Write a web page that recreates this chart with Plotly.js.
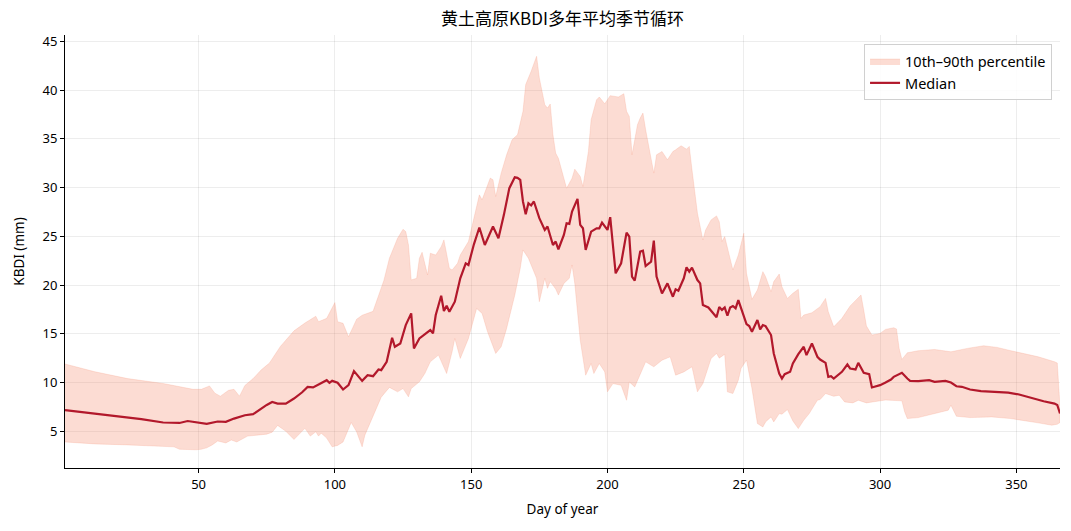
<!DOCTYPE html>
<html>
<head>
<meta charset="utf-8">
<script src="https://cdn.plot.ly/plotly-3.0.1.min.js"></script>
<style>html,body{margin:0;padding:0;background:#fff;}#chart{width:1071px;height:531px;}</style>
</head>
<body>
<div id="chart"></div>
<script>
const medianDays = [1,12,24,29,37,43,46,50,53,57,60,63,67,70,72,75,77,79,82,85,88,90,92,94,97,98,99,101,103,105,107,110,112,114,116,117,119,121,122,124,126,128,129,131,133,135,136,137,139,140,141,142,144,146,148,149,151,153,155,156,158,160,162,164,166,167,168,169,170,171,172,173,175,177,178,180,181,182,184,185,186,187,189,190,191,192,194,196,197,198,200,201,203,205,207,208,209,210,212,213,214,216,217,218,220,222,224,225,226,228,229,230,231,233,234,235,237,240,241,242,243,244,245,246,247,248,249,251,252,253,255,256,257,258,260,261,263,264,265,267,268,270,272,273,275,277,278,280,281,282,283,285,286,288,289,291,292,294,296,297,300,302,304,305,307,308,310,311,314,318,320,324,326,328,330,333,337,342,347,351,355,360,364,365,366];
const medianVals = [7.16,6.8,6.4,6.25,5.9,5.85,6.05,5.85,5.75,6.0,5.96,6.3,6.64,6.75,7.16,7.7,8.0,7.84,7.84,8.36,9.0,9.55,9.5,9.83,10.24,9.97,10.17,9.97,9.28,9.73,11.17,10.17,10.75,10.65,11.34,11.27,12.12,14.59,13.67,14.0,15.89,17.09,13.49,14.52,14.93,15.38,15.04,16.92,18.9,17.33,17.88,17.26,18.29,20.69,22.23,22.06,24.18,25.9,24.11,24.8,26.0,24.8,27.2,29.94,31.05,31.0,30.8,28.57,27.27,28.4,28.16,28.57,26.86,25.66,26.0,24.11,24.46,23.67,25.14,26.34,26.27,27.54,28.84,26.17,25.82,23.6,25.48,25.82,25.82,26.4,25.65,26.96,21.2,22.23,25.38,24.97,20.86,20.45,23.43,23.53,21.95,22.4,24.56,20.86,19.14,20.17,18.8,19.56,19.42,20.69,21.82,21.37,21.78,20.51,20.17,17.94,17.7,16.7,17.75,17.45,17.7,16.85,17.7,17.85,17.61,18.46,17.61,16.0,15.79,15.21,16.41,15.45,15.89,15.79,14.87,12.98,10.92,10.41,10.86,11.1,11.95,12.91,13.67,12.81,14.01,12.64,12.36,12.02,10.58,10.65,10.41,10.92,11.1,11.85,11.44,11.34,12.02,10.99,10.86,9.49,9.73,10.0,10.3,10.58,10.86,10.99,10.41,10.17,10.14,10.24,10.07,10.17,10.0,9.62,9.56,9.28,9.11,9.04,8.97,8.77,8.43,8.08,7.84,7.7,6.82];

const upperDays = [1,12,24,37,48,51,54,56,58,61,63,65,67,70,73,76,80,85,89,93,94,97,100,101,103,105,108,110,114,116,118,120,123,125,126,127,128,130,131,132,134,135,137,139,140,142,143,145,146,149,151,153,154,156,157,158,159,161,163,165,167,169,170,172,174,175,177,178,179,180,181,182,184,185,187,188,190,191,193,194,196,197,199,201,204,206,207,208,209,211,212,213,214,216,217,218,220,222,224,225,227,229,230,231,233,235,236,238,240,241,242,243,246,248,250,251,253,255,257,258,260,261,263,264,266,268,270,271,272,275,278,280,281,283,286,289,291,293,294,295,297,300,302,305,306,307,308,310,314,320,326,332,338,343,348,353,358,364,365,366];
const upperVals = [11.9,11.1,10.4,9.9,9.3,9.3,9.65,8.9,8.6,9.2,9.3,8.6,9.7,10.4,11.3,12.0,13.7,15.3,16.1,16.8,16.24,16.58,18.2,16.24,16.07,14.69,16.5,16.9,17.3,18.8,20.5,22.74,24.8,25.72,25.48,24.11,20.52,20.69,22.74,23.36,21.03,23.26,23.08,23.94,24.63,21.72,21.54,22.23,23.08,24.46,26.86,29.25,28.74,30.28,30.97,30.8,29.08,31.48,33.36,34.9,35.42,37.82,40.56,41.93,43.47,41.24,38.5,38.16,38.57,35.42,33.53,33.0,30.8,29.93,30.96,31.89,31.14,30.1,33.7,36.96,39.01,39.29,38.6,39.43,39.29,39.63,37.82,37.3,33.36,36.45,37.13,37.64,35.93,32.85,31.48,33.36,33.7,32.85,33.7,33.87,34.29,33.94,34.22,31.82,27.37,24.62,25.65,26.68,27.09,26.5,24.46,24.97,21.55,23.09,25.31,21.2,18.53,19.49,21.37,20.86,19.32,20.35,21.13,19.83,18.63,19.15,19.56,16.58,16.92,17.16,17.78,18.63,17.26,15.72,16.58,17.85,18.46,18.98,17.43,15.79,14.87,15.04,15.45,15.62,15.5,13.5,12.37,13.05,13.26,13.39,13.15,13.5,13.77,13.6,13.26,12.91,12.64,12.13,12.0,7.5];

const lowerDays = [1,12,24,41,43,49,51,53,55,57,60,62,64,68,72,75,77,79,82,85,89,91,93,94,95,97,99,101,103,106,108,110,111,114,117,120,123,125,127,128,131,133,135,138,141,143,144,146,147,149,152,154,156,159,161,163,166,168,169,171,172,174,175,177,178,179,181,182,184,186,187,188,190,192,194,195,197,199,200,202,205,207,208,210,213,214,217,220,223,225,228,231,233,235,238,240,241,243,244,246,248,249,251,253,255,257,258,260,261,263,264,266,268,270,272,274,277,278,280,283,285,287,290,292,295,297,300,302,305,308,309,310,314,320,325,326,328,333,341,348,353,358,363,365,366];
const lowerVals = [3.9,3.7,3.6,3.4,3.15,3.1,3.15,3.3,3.6,4.0,3.8,4.1,3.9,4.5,4.6,4.7,4.9,5.6,5.0,4.15,5.3,4.5,4.95,4.5,4.8,4.3,3.4,3.55,3.9,5.9,4.93,3.4,4.6,6.47,8.5,9.5,9.04,9.38,8.53,9.38,10.07,10.92,12.12,12.81,10.92,13.15,14.52,12.47,13.15,14.52,17.6,17.09,15.21,12.98,13.66,15.55,18.97,21.72,23.6,22.74,22.06,20.69,18.29,20.69,19.66,20.35,19.6,18.97,20.17,20.69,22.06,20.17,14.35,10.75,11.95,10.92,11.95,11.09,9.04,9.89,9.72,8.18,10.06,9.55,11.44,12.12,11.61,12.29,12.63,10.75,11.09,11.61,9.04,9.89,12.46,12.98,12.5,12.9,9.04,8.87,10.24,11.44,12.3,9.38,5.79,5.44,5.96,6.47,5.96,6.81,6.75,7.22,6.06,5.27,6.13,6.81,8.18,8.25,8.87,8.59,8.7,8.01,7.91,8.18,7.91,8.01,8.12,8.2,8.19,8.12,7.0,6.3,6.4,6.82,7.16,7.67,6.54,6.4,6.47,6.3,6.06,5.86,5.62,5.72,5.9];

const xTicks = [50,100,150,200,250,300,350];
const yTicks = [5,10,15,20,25,30,35,40,45];

const bandX = upperDays.concat(lowerDays.slice().reverse());
const bandY = upperVals.concat(lowerVals.slice().reverse());

const fontFam = '"Noto Sans", "Noto Sans CJK SC", sans-serif';

const traces = [
  {
    x: bandX, y: bandY, type: 'scatter', mode: 'lines',
    fill: 'toself', fillcolor: 'rgba(244,140,110,0.30)',
    line: {color: 'rgba(244,140,110,0.35)', width: 0.6},
    name: '10th–90th percentile', hoverinfo: 'skip'
  },
  {
    x: medianDays, y: medianVals, type: 'scatter', mode: 'lines',
    line: {color: '#B2182B', width: 2.2},
    name: 'Median'
  }
];

const axisCommon = {
  showline: true, linecolor: '#000', linewidth: 1,
  ticks: 'outside', ticklen: 4, tickwidth: 1, tickcolor: '#000',
  showgrid: true, gridcolor: 'rgba(0,0,0,0.07)', gridwidth: 1,
  zeroline: false, mirror: false,
  tickfont: {family: fontFam, size: 13, color: '#000'}
};

const layout = {
  width: 1071, height: 531,
  margin: {l: 65, r: 11, t: 35, b: 63},
  paper_bgcolor: '#fff', plot_bgcolor: '#fff',
  font: {family: fontFam, color: '#000'},
  title: {text: '黄土高原KBDI多年平均季节循环', x: 0.5, xref: 'paper', xanchor: 'center',
          y: 0.965, yref: 'container', yanchor: 'middle',
          font: {family: '"Noto Sans CJK SC", sans-serif', size: 17, color: '#000'}},
  xaxis: Object.assign({}, axisCommon, {
    range: [1, 366], tickvals: xTicks,
    title: {text: 'Day of year', font: {family: fontFam, size: 13.5, color: '#000'}, standoff: 12}
  }),
  yaxis: Object.assign({}, axisCommon, {
    range: [1.23, 45.65], tickvals: yTicks,
    title: {text: 'KBDI (mm)', font: {family: fontFam, size: 13.5, color: '#000'}, standoff: 14}
  }),
  legend: {
    x: 0.992, y: 0.979, xanchor: 'right', yanchor: 'top',
    bgcolor: 'rgba(255,255,255,0.85)', bordercolor: '#d0d0d0', borderwidth: 1,
    font: {family: fontFam, size: 14.5, color: '#000'},
    tracegroupgap: 2
  },
  showlegend: true
};

Plotly.newPlot('chart', traces, layout, {displayModeBar: false, staticPlot: true});
</script>
</body>
</html>
